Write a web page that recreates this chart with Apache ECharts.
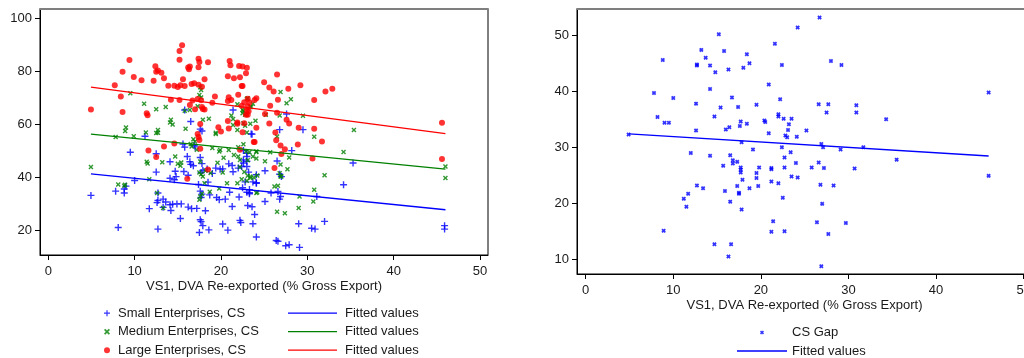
<!DOCTYPE html>
<html>
<head>
<meta charset="utf-8">
<script src="https://cdn.jsdelivr.net/npm/echarts@6/dist/echarts.min.js"></script>
<style>
html,body{margin:0;padding:0;background:#fff}
#chart{width:1024px;height:358px}
</style>
</head>
<body>
<div id="chart"></div>
<script>
// tick labels
var xTicks = [0, 10, 20, 30, 40, 50];
var leftYTicks = [20, 40, 60, 80, 100];
var rightYTicks = [10, 20, 30, 40, 50];

// [VS1, CS]
var smallCS = [
	[4.94,33.2],[7.8,34.8],[8.8,34.1],[8.8,35.6],[9.0,36.7],[10.0,38.8],[8.1,21.1],[11.7,28.2],[12.6,30.5],[12.7,34.1],
	[12.7,31.3],[12.7,20.5],[13.3,31.8],[13.6,30.7],[14.1,29.7],[14.4,29.9],[14.9,30.0],[15.4,30.0],[14.2,27.5],[13.3,28.7],
	[15.3,24.5],[14.1,39.7],[14.6,39.1],[17.4,37.3],[17.6,34.8],[17.8,33.7],[17.7,32.4],[17.6,24.0],[17.7,23.3],[17.9,21.8],
	[17.5,19.2],[18.6,20.2],[16.2,28.8],[16.6,28.2],[17.2,28.3],[18.2,27.4],[18.5,38.2],[18.7,33.4],[19.5,32.4],[19.8,31.6],
	[20.5,31.8],[21.0,34.4],[21.3,29.0],[22.2,23.8],[22.3,23.0],[20.2,22.4],[20.8,20.1],[22.1,32.6],[22.5,36.1],[22.8,38.3],
	[23.3,35.4],[23.3,33.8],[23.7,38.3],[24.1,37.8],[23.1,29.4],[23.6,28.9],[23.7,22.5],[24.1,17.5],
	[15.8,65.4],[16.5,61.1],[17.6,58.2],[17.8,57.5],[21.4,65.4],[23.6,56.3],[11.2,55.5],[9.5,49.5],[12.5,48.9],[15.8,51.4],
	[15.6,52.6],[16.9,52.1],[17.0,51.5],[17.6,47.5],[14.1,45.9],[16.1,47.9],[16.4,45.9],[16.5,44.9],[17.8,45.2],[22.6,50.1],
	[22.6,46.6],[23.0,47.9],[22.6,45.4],[23.0,44.1],[23.2,42.0],[20.9,45.1],[21.3,44.5],[21.4,42.1],[22.0,43.5],[22.4,44.1],
	[17.7,41.8],[12.5,42.0],[14.7,42.3],[15.7,42.2],[16.8,44.4],[17.9,42.6],[18.4,43.2],[19.4,43.5],[19.9,43.1],[20.2,43.2],
	[19.0,41.5],[14.8,40.3],[16.2,40.8],
	[23.0,49.1],[24.1,38.0],[24.1,41.0],[25.1,42.5],[23.0,34.4],[23.3,34.2],[25.1,30.9],[23.9,26.0],[25.8,34.1],[26.6,34.7],
	[26.9,32.8],[26.8,31.8],[26.5,46.2],[26.8,41.2],[27.0,40.3],[28.2,50.1],[27.6,63.9],[29.5,58.0],[26.8,58.0],[23.5,56.4],
	[35.3,45.4],[23.0,46.1],[31.1,32.8],[34.2,37.2],[32.0,23.4],[29.0,22.5],[30.5,20.8],[30.9,20.5],[26.4,16.2],[26.6,15.9],
	[27.5,14.2],[27.9,14.6],[29.1,13.6],[45.9,21.8],[45.9,20.5]
];
var mediumCS = [
	[4.94,43.9],[9.5,71.7],[9.0,58.8],[8.9,57.5],[7.8,55.2],[9.9,55.5],[11.1,67.8],[12.5,65.7],[13.6,66.5],[12.7,57.9],
	[12.7,56.8],[14.2,61.7],[14.4,59.9],[14.1,60.7],[15.8,65.1],[16.4,65.4],[17.6,74.0],[17.7,73.0],[17.5,71.1],[17.7,70.1],
	[17.3,66.8],[15.9,58.3],[16.8,54.4],[17.0,53.5],[16.6,51.6],[17.2,50.4],[18.6,62.1],[17.9,61.7],[19.4,56.8],[19.4,56.4],
	[19.0,51.1],[19.9,50.3],[21.2,63.3],[21.4,62.0],[21.4,59.8],[21.9,67.6],[22.5,65.5],[22.5,64.2],[23.0,63.8],[23.4,66.5],
	[23.7,67.8],[23.0,69.7],[21.9,57.9],[23.0,56.9],[24.0,61.4],[11.3,56.9],[12.5,56.7],[11.4,45.9],[11.5,45.2],[13.2,45.7],
	[14.7,47.9],[15.4,45.6],[15.0,45.1],[15.3,44.4],[16.5,52.6],[19.8,49.8],[21.5,48.4],[22.0,47.9],[22.9,49.8],[23.3,49.5],
	[24.1,49.6],[23.7,47.9],[23.1,46.5],[22.2,46.6],[17.5,41.8],[17.7,41.2],[18.2,42.5],[17.6,46.0],[18.8,41.7],[19.6,45.5],
	[20.3,47.4],[20.9,50.3],[22.0,51.4],[23.4,40.3],[23.1,40.6],[23.8,40.0],
	[8.1,37.3],[8.9,37.2],[8.8,36.8],[11.7,39.3],[12.6,34.1],[13.3,28.5],[17.5,31.6],[17.6,32.8],[17.8,33.8],[18.7,34.6],
	[19.8,35.8],[17.9,40.3],[18.1,37.8],[21.9,37.8],[22.4,39.3],[23.0,38.7],[23.4,39.8],[24.2,34.4],[20.7,37.8],[20.2,41.8],
	[26.9,72.2],[28.1,69.5],[27.6,68.0],[23.1,69.8],[23.5,66.5],[22.6,65.1],[22.8,63.6],[22.6,60.4],[22.8,59.5],[23.4,60.2],
	[25.2,63.6],[26.8,63.3],[29.5,63.2],[35.4,57.9],[26.5,55.4],[30.8,55.3],[22.6,52.5],[25.7,49.5],[27.9,47.5],[26.9,44.9],
	[27.7,43.1],[26.8,41.6],[27.0,40.3],[34.2,49.6],[24.1,49.8],[24.1,47.1],[25.1,46.1],[32.0,40.8],[46.0,44.1],[46.0,39.8],
	[24.2,40.7],[26.9,40.3],[26.2,36.6],[26.6,36.8],[29.1,32.8],[30.8,35.3],[30.7,30.9],[29.0,28.5],[26.5,27.0],[27.4,26.5],
	[24.1,34.1],[22.2,43.9],[22.7,42.0]
];
var largeCS = [
	[4.94,65.6],[7.7,74.7],[8.4,70.5],[8.6,64.7],[9.4,84.3],[8.6,79.8],[9.9,77.9],[10.8,76.6],[11.4,64.2],[11.5,63.4],
	[12.2,76.4],[12.4,81.9],[12.5,79.8],[13.1,79.5],[12.7,80.3],[13.4,77.4],[13.9,74.6],[14.2,69.3],[13.4,51.6],[11.6,50.1],
	[12.5,47.7],[14.6,52.8],[15.2,69.2],[14.6,74.6],[15.0,74.1],[15.8,74.5],[15.3,74.7],[15.2,84.4],[15.2,87.7],[15.5,89.8],
	[15.6,77.0],[16.2,81.4],[16.3,80.8],[16.4,81.8],[17.4,84.7],[17.5,83.5],[17.4,81.5],[18.5,83.4],[16.6,75.2],[16.9,75.5],
	[17.4,74.9],[17.8,74.2],[18.1,77.0],[17.3,69.6],[17.7,69.1],[16.7,69.0],[16.4,67.3],[17.8,66.5],[18.1,65.6],[17.9,65.8],
	[17.0,65.7],[17.6,60.1],[17.3,56.4],[17.4,55.2],[17.5,54.1],[17.6,50.8],[19.3,70.5],[19.0,68.1],[19.7,58.9],[20.0,57.3],
	[20.8,61.3],[21.0,83.9],[21.1,82.3],[20.8,78.1],[21.5,77.4],[20.9,58.4],[20.9,70.2],[20.8,68.8],[21.2,69.2],[21.9,60.7],
	[21.9,60.2],[22.0,71.2],[22.1,82.0],[22.5,81.8],[23.0,81.3],[22.9,79.3],[22.4,74.5],[23.1,69.7],[23.3,68.2],[23.1,66.7],
	[23.0,65.4],[22.7,60.4],[23.9,69.2],[24.1,69.8],[24.1,58.7],[23.9,53.3],[22.2,50.4],[16.1,39.5],[18.5,43.0],
	[22.2,77.8],[22.5,74.5],[26.5,78.8],[25.0,75.9],[25.6,73.9],[26.1,72.4],[26.6,69.3],[27.8,73.4],[29.2,74.7],[32.1,72.4],
	[32.9,73.4],[30.8,69.2],[22.7,68.3],[22.4,67.0],[23.2,64.9],[22.9,63.6],[23.1,63.6],[25.7,67.0],[25.1,63.9],[26.5,64.4],
	[27.6,61.7],[27.9,60.3],[25.6,60.3],[29.0,58.7],[30.8,58.3],[26.3,56.9],[26.4,54.0],[26.9,52.0],[27.4,50.6],[27.0,48.8],
	[28.9,52.4],[31.7,53.5],[30.6,47.1],[26.2,43.5],[23.8,53.3],[45.6,60.6],[45.6,46.9],[22.5,57.0]
];
// [VS1, gap]
var csGap = [
	[4.9,32.3],[15.2,50.2],[8.8,45.6],[13.2,47.4],[13.7,46.0],[12.7,44.8],[12.7,44.6],[14.2,44.6],[14.8,43.4],[16.3,43.9],
	[15.8,47.2],[18.4,46.6],[18.7,45.0],[18.0,44.2],[21.6,48.5],[20.9,41.2],[7.8,39.7],[14.2,40.4],[10.0,38.8],[16.7,38.9],
	[12.6,37.8],[15.4,37.1],[17.4,37.2],[19.5,37.6],[22.2,38.6],[8.2,35.4],[9.0,34.4],[9.5,34.4],[14.7,35.5],[16.4,33.6],
	[16.0,33.2],[17.7,34.6],[17.6,33.8],[18.4,34.2],[20.4,34.8],[20.5,34.5],[22.0,35.9],[22.0,35.5],[20.9,32.5],[12.6,33.0],
	[17.8,30.9],[19.1,29.6],[12.0,29.0],[14.2,28.5],[16.5,28.6],[15.7,26.7],[16.8,27.7],[16.8,27.1],[17.3,27.4],[17.7,26.4],
	[17.7,26.0],[17.7,25.5],[17.9,24.2],[19.5,25.4],[19.5,24.5],[19.8,26.4],[21.2,26.3],[21.2,26.1],[21.2,23.9],[22.0,23.6],
	[19.7,23.1],[18.7,22.7],[17.3,23.1],[17.5,21.9],[17.5,21.7],[15.9,22.2],[12.7,23.2],[13.4,22.7],[11.7,21.7],[11.2,20.8],
	[11.5,19.4],[16.5,20.3],[17.8,18.9],[21.4,16.8],[21.2,14.9],[8.9,15.1],[14.7,12.7],[16.6,12.7],[16.3,10.5],[26.7,53.2],
	[24.2,51.4],[22.4,44.7],[28.0,45.4],[29.2,44.7],[46.0,39.8],[26.6,37.7],[27.7,37.7],[27.5,36.2],[30.9,37.5],[30.9,36.2],
	[34.3,35.0],[22.6,35.1],[23.5,35.1],[23.2,34.1],[23.1,33.1],[25.2,33.0],[22.8,32.1],[23.0,31.8],[24.1,31.9],[22.4,30.0],
	[23.4,29.1],[26.9,30.6],[27.1,30.0],[29.1,29.6],[31.7,30.0],[35.5,27.8],[22.7,28.2],[24.0,27.2],[26.6,27.3],[22.7,26.4],
	[25.8,26.4],[27.2,26.3],[30.7,26.2],[23.5,24.8],[24.2,24.6],[26.8,23.3],[28.3,23.2],[22.5,21.0],[27.0,19.9],[46.0,24.9],
	[26.4,16.6],[29.7,16.5],[22.7,15.0],[27.7,14.5],[26.9,8.75]
];

// fitted lines, end points
var fitX = [4.94, 46.0];
var fitSmall = [41.3, 27.8];
var fitMedium = [56.3, 43.1];
var fitLarge = [74.0, 56.5];
var fitGapY = [32.4, 28.45];

var font = '"Liberation Sans", Arial, Helvetica, sans-serif';
var PLUS = 'path://M4,0H6V4H10V6H6V10H4V6H0V4H4Z';
var CROSS = 'path://M0,2L2,0L5,3L8,0L10,2L7,5L10,8L8,10L5,7L2,10L0,8L3,5Z';
var SMALLX = 'path://M0,2.8L2.8,0L5,2.2L7.2,0L10,2.8L7.8,5L10,7.2L7.2,10L5,7.8L2.8,10L0,7.2L2.2,5Z';
var LINEICON = 'path://M0,0H50V1.3H0Z';

function pairs(xs, ys){
	var out = [];
	for (var i = 0; i < xs.length; i++) out.push([xs[i], ys[i]]);
	return out;
}

function bottomAxis(grid, min, max){
	return {
		type: 'value', gridIndex: grid, position: 'bottom', min: min, max: max,
		name: 'VS1, DVA Re-exported (% Gross Export)', nameLocation: 'middle', nameGap: 25,
		nameMoveOverlap: false,
		nameTextStyle: {fontFamily: font, fontSize: 13, color: '#1a1a1a'},
		axisLine: {show: true, onZero: false, lineStyle: {color: '#000', width: 1}},
		axisTick: {show: true, length: 5, customValues: xTicks, lineStyle: {color: '#000'}},
		axisLabel: {customValues: xTicks, margin: 10, fontFamily: font, fontSize: 13, color: '#1a1a1a'},
		splitLine: {show: false}
	};
}
function topAxis(grid, min, max){
	return {
		type: 'value', gridIndex: grid, position: 'top', min: min, max: max,
		axisLine: {show: true, onZero: false, lineStyle: {color: '#7f7f7f', width: 2}},
		axisTick: {show: false}, axisLabel: {show: false}, splitLine: {show: false}
	};
}
function leftAxis(grid, min, max, ticks){
	return {
		type: 'value', gridIndex: grid, position: 'left', min: min, max: max,
		axisLine: {show: true, onZero: false, lineStyle: {color: '#000', width: 1}},
		axisTick: {show: true, length: 5, customValues: ticks, lineStyle: {color: '#000'}},
		axisLabel: {customValues: ticks, margin: 8, fontFamily: font, fontSize: 13, color: '#1a1a1a'},
		splitLine: {show: false}
	};
}

var legendText = {fontFamily: font, fontSize: 13, color: '#1a1a1a', lineHeight: 18};

var chart = echarts.init(document.getElementById('chart'));

var option = {
	animation: false,
	backgroundColor: '#fff',
	textStyle: {fontFamily: font},
	grid: [
		{left: 40, top: 9, width: 448, height: 246, show: true, borderColor: '#000', borderWidth: 1, outerBoundsMode: 'none', containLabel: false},
		{left: 577, top: 9, width: 455, height: 265, show: true, borderColor: '#000', borderWidth: 1, outerBoundsMode: 'none', containLabel: false}
	],
	xAxis: [
		bottomAxis(0, -0.96, 50.93),
		topAxis(0, -0.96, 50.93),
		bottomAxis(1, -0.99, 50.95),
		topAxis(1, -0.99, 50.95)
	],
	yAxis: [
		leftAxis(0, 10.73, 103.5, leftYTicks),
		leftAxis(1, 7.375, 54.7, rightYTicks)
	],
	legend: [
		{
			data: ['Small Enterprises, CS', 'Medium Enterprises, CS', 'Large Enterprises, CS'],
			orient: 'vertical', left: 104, top: 304.2, width: 200, height: 80, padding: 0,
			itemWidth: 12, itemHeight: 6, itemGap: 0.5,
			selectedMode: false,
			textStyle: legendText
		},
		{
			data: [
				{name: 'fitSmall', icon: LINEICON},
				{name: 'fitMedium', icon: LINEICON},
				{name: 'fitLarge', icon: LINEICON}
			],
			orient: 'vertical', left: 288, top: 304.2, width: 200, height: 80, padding: 0,
			itemWidth: 49, itemHeight: 4, itemGap: 0.5,
			selectedMode: false,
			formatter: function(name){ return 'Fitted values'; },
			textStyle: {fontFamily: font, fontSize: 13, color: '#1a1a1a', lineHeight: 18, padding: [0, 0, 0, 3]}
		},
		{
			data: ['CS Gap', {name: 'fitGap', icon: LINEICON}],
			orient: 'vertical', left: 737, top: 323.5, width: 200, height: 80, padding: 0,
			itemWidth: 50, itemHeight: 4, itemGap: 0.5,
			selectedMode: false,
			formatter: function(name){ return name.indexOf('fit') === 0 ? 'Fitted values' : name; },
			textStyle: legendText
		}
	],
	series: [
		{
			name: 'Small Enterprises, CS', type: 'scatter', xAxisIndex: 0, yAxisIndex: 0,
			symbol: PLUS, symbolSize: 7, itemStyle: {color: '#0000ff'}, data: smallCS
		},
		{
			name: 'Medium Enterprises, CS', type: 'scatter', xAxisIndex: 0, yAxisIndex: 0,
			symbol: CROSS, symbolSize: 5, itemStyle: {color: '#008000'}, data: mediumCS
		},
		{
			name: 'Large Enterprises, CS', type: 'scatter', xAxisIndex: 0, yAxisIndex: 0,
			symbol: 'circle', symbolSize: 6, itemStyle: {color: '#ff0000'}, data: largeCS
		},
		{
			name: 'fitSmall', type: 'line', xAxisIndex: 0, yAxisIndex: 0, symbol: 'none',
			itemStyle: {color: '#0000ff'}, lineStyle: {color: '#0000ff', width: 1.3}, data: pairs(fitX, fitSmall)
		},
		{
			name: 'fitMedium', type: 'line', xAxisIndex: 0, yAxisIndex: 0, symbol: 'none',
			itemStyle: {color: '#008000'}, lineStyle: {color: '#008000', width: 1.3}, data: pairs(fitX, fitMedium)
		},
		{
			name: 'fitLarge', type: 'line', xAxisIndex: 0, yAxisIndex: 0, symbol: 'none',
			itemStyle: {color: '#ff0000'}, lineStyle: {color: '#ff0000', width: 1.3}, data: pairs(fitX, fitLarge)
		},
		{
			name: 'CS Gap', type: 'scatter', xAxisIndex: 2, yAxisIndex: 1,
			symbol: SMALLX, symbolSize: 4.5, itemStyle: {color: '#0000ff'}, data: csGap
		},
		{
			name: 'fitGap', type: 'line', xAxisIndex: 2, yAxisIndex: 1, symbol: 'none',
			itemStyle: {color: '#0000ff'}, lineStyle: {color: '#0000ff', width: 1.3}, data: pairs(fitX, fitGapY)
		}
	]
};

chart.setOption(option);
</script>
</body>
</html>
